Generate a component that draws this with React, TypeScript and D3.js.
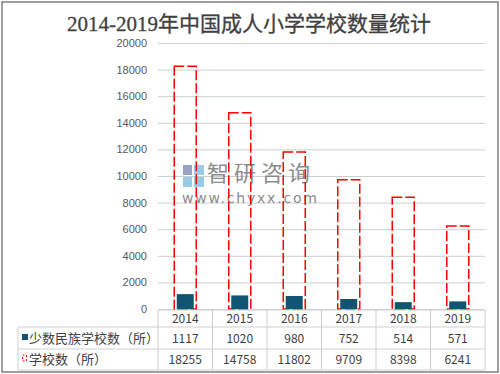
import React, { useEffect, useRef } from "react";
import { axisLeft, format, scaleBand, scaleLinear, select } from "d3";

const years = ["2014", "2015", "2016", "2017", "2018", "2019"];
const minoritySchools = [1117, 1020, 980, 752, 514, 571];
const totalSchools = [18255, 14758, 11802, 9709, 8398, 6241];
const yTicks = [0, 2000, 4000, 6000, 8000, 10000, 12000, 14000, 16000, 18000, 20000];
const seriesNames = ["少数民族学校数（所）", "学校数（所）"];

const W = 500;
const H = 374;
const FONT = "'Noto Sans CJK SC', 'Noto Sans', sans-serif";

const App: React.FC = () => {
    const svgRef = useRef<SVGSVGElement>(null);

    useEffect(() => {
        const svg = select(svgRef.current);
        svg.selectAll("*").remove();

        const left = 158,
            right = 485,
            top = 43,
            bottom = 309;

        // outer frame
        svg.append("rect")
            .attr("x", 2).attr("y", 2)
            .attr("width", W - 4).attr("height", H - 4)
            .attr("fill", "#fff")
            .attr("stroke", "#7f7f7f")
            .attr("stroke-width", 1.5);

        svg.append("text")
            .attr("x", 249).attr("y", 31)
            .attr("text-anchor", "middle")
            .attr("font-family", "'Liberation Serif', 'Noto Sans CJK SC', serif")
            .attr("font-size", 21)
            .attr("fill", "#404040")
            .attr("stroke", "#404040")
            .attr("stroke-width", 0.3)
            .text("2014-2019年中国成人小学学校数量统计");

        const x = scaleBand<string>().domain(years).range([left, right]);
        const y = scaleLinear().domain([0, 20000]).range([bottom, top]);

        svg.append("g")
            .attr("transform", `translate(${left},0)`)
            .call(axisLeft(y).tickValues(yTicks).tickFormat(format("d")).tickSize(-(right - left)).tickPadding(11))
            .call(g => g.select(".domain").remove())
            .call(g => g.selectAll(".tick line").attr("stroke", "#c8d0d0").attr("stroke-width", 1))
            .call(g => g.selectAll(".tick text")
                .attr("fill", "#595959")
                .attr("font-family", "'Liberation Sans', Arial, sans-serif")
                .attr("font-size", 11));

        // watermark
        const wm = svg.append("g").attr("opacity", 0.9);
        wm.append("rect").attr("x", 183).attr("y", 165).attr("width", 9).attr("height", 10).attr("fill", "#8a9ac0");
        wm.append("rect").attr("x", 194).attr("y", 165).attr("width", 10).attr("height", 10).attr("fill", "#8ec5e6");
        wm.append("rect").attr("x", 183).attr("y", 177).attr("width", 9).attr("height", 10).attr("fill", "#8ec5e6");
        wm.append("rect").attr("x", 194).attr("y", 177).attr("width", 10).attr("height", 10).attr("fill", "#8ec5e6");
        wm.append("text").attr("x", 207).attr("y", 181)
            .attr("font-family", FONT).attr("font-size", 22).attr("letter-spacing", 5).attr("fill", "#808080")
            .text("智研咨询");
        wm.append("text").attr("x", 182).attr("y", 203)
            .attr("font-family", "'DejaVu Sans', sans-serif").attr("font-size", 14)
            .attr("textLength", 135).attr("lengthAdjust", "spacing").attr("fill", "#808080")
            .text("www.chyxx.com");

        const bw = x.bandwidth();
        svg.append("g").selectAll("rect")
            .data(totalSchools)
            .join("rect")
            .attr("x", (_, i) => x(years[i])! + bw / 2 - 11)
            .attr("width", 22)
            .attr("y", d => y(d))
            .attr("height", d => bottom - y(d))
            .attr("fill", "none")
            .attr("stroke", "#ff0000")
            .attr("stroke-width", 1.5)
            .attr("stroke-dasharray", "10,3");

        svg.append("g").selectAll("rect")
            .data(minoritySchools)
            .join("rect")
            .attr("x", (_, i) => x(years[i])! + bw / 2 - 8.5)
            .attr("width", 17)
            .attr("y", d => y(d))
            .attr("height", d => bottom - y(d))
            .attr("fill", "#0f5470");

        // data table
        const rowY = [310, 327, 349, 370];
        const tableLeft = 18;
        const grid = svg.append("g").attr("stroke", "#d0d0d0").attr("stroke-width", 1);
        grid.append("line").attr("x1", left).attr("x2", right).attr("y1", rowY[0]).attr("y2", rowY[0]);
        [1, 2, 3].forEach(r => {
            grid.append("line").attr("x1", tableLeft).attr("x2", right).attr("y1", rowY[r]).attr("y2", rowY[r]);
        });
        grid.append("line").attr("x1", tableLeft).attr("x2", tableLeft).attr("y1", rowY[1]).attr("y2", rowY[3]);
        years.forEach(yr => {
            grid.append("line").attr("x1", x(yr)!).attr("x2", x(yr)!).attr("y1", rowY[0]).attr("y2", rowY[3]);
        });
        grid.append("line").attr("x1", right).attr("x2", right).attr("y1", rowY[0]).attr("y2", rowY[3]);

        const txt = svg.append("g")
            .attr("font-family", FONT)
            .attr("font-size", 12)
            .attr("fill", "#404040")
            .attr("text-anchor", "middle");
        years.forEach((yr, i) => {
            const cx = x(yr)! + bw / 2;
            txt.append("text").attr("x", cx).attr("y", 323).text(yr);
            txt.append("text").attr("x", cx).attr("y", 343).text(String(minoritySchools[i]));
            txt.append("text").attr("x", cx).attr("y", 364).text(String(totalSchools[i]));
        });

        // legend keys
        svg.append("rect").attr("x", 22).attr("y", 334).attr("width", 6).attr("height", 6).attr("fill", "#0f5470");
        svg.append("rect").attr("x", 22.5).attr("y", 355).attr("width", 4).attr("height", 6)
            .attr("fill", "none").attr("stroke", "#ff0000").attr("stroke-width", 1).attr("stroke-dasharray", "2,2");
        const lg = svg.append("g").attr("font-family", FONT).attr("font-size", 13).attr("fill", "#404040");
        lg.append("text").attr("x", 29).attr("y", 343).text(seriesNames[0]);
        lg.append("text").attr("x", 29).attr("y", 364).text(seriesNames[1]);
    }, []);

    return (
        <svg
            ref={svgRef}
            width={W}
            height={H}
            style={{ position: "absolute", left: 0, top: 0 }}
        />
    );
};

export default App;
